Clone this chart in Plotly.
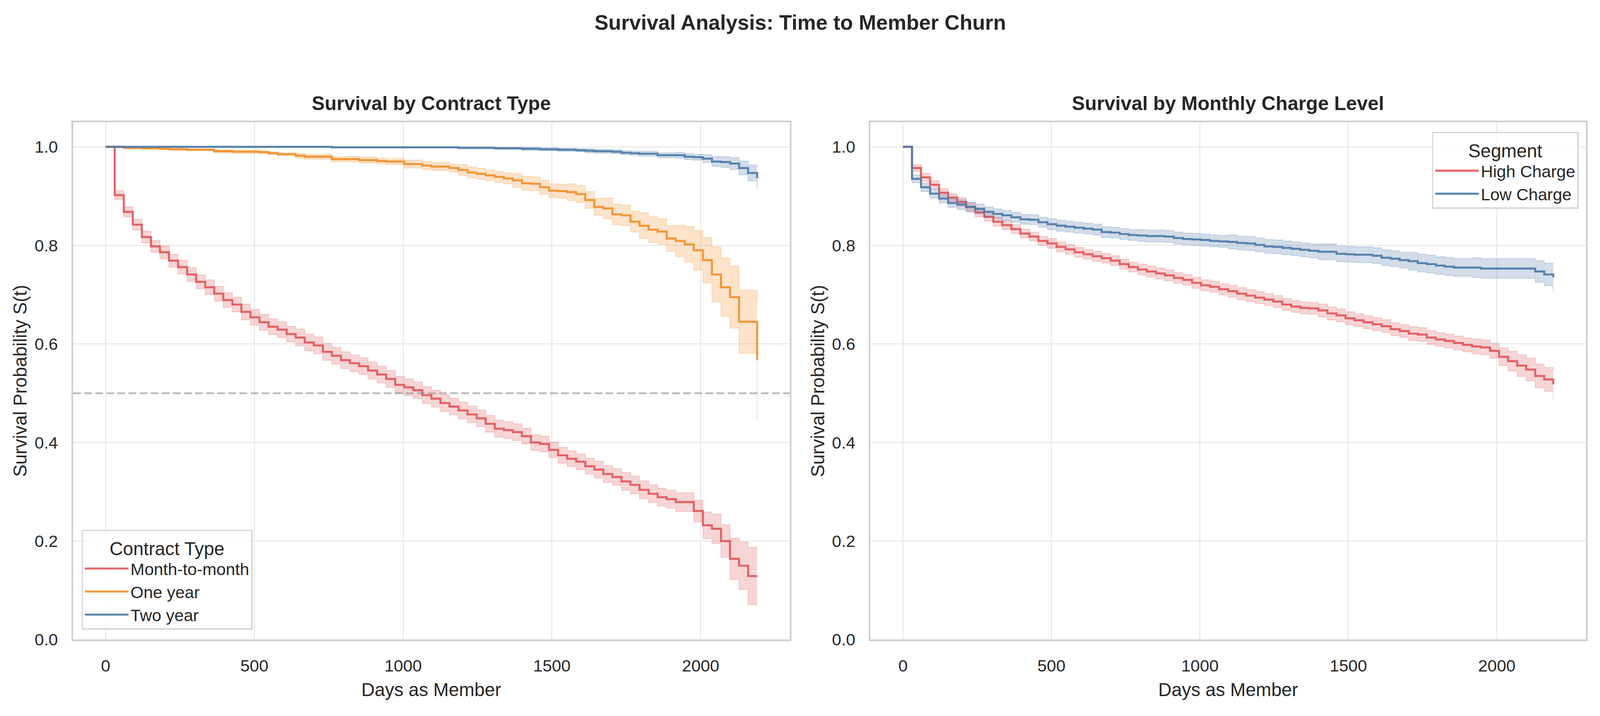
import plotly.graph_objects as go

# ---------------- data ----------------
months = list(range(73))  # tenure in months, 0..72
days = [m * 365 / 12 for m in months]

contract_labels = ["Month-to-month", "One year", "Two year"]
charge_labels = ["High Charge", "Low Charge"]

surv_month_to_month = [
    1.0, 0.902, 0.868, 0.842, 0.817, 0.798, 0.786, 0.769, 0.756, 0.741,
    0.726, 0.715, 0.702, 0.689, 0.680, 0.665, 0.654, 0.644, 0.635, 0.629,
    0.620, 0.613, 0.603, 0.597, 0.584, 0.576, 0.567, 0.561, 0.555, 0.546,
    0.538, 0.529, 0.517, 0.512, 0.506, 0.496, 0.489, 0.480, 0.473, 0.465,
    0.457, 0.449, 0.438, 0.428, 0.425, 0.421, 0.413, 0.400, 0.397, 0.385,
    0.374, 0.367, 0.361, 0.352, 0.345, 0.336, 0.330, 0.321, 0.314, 0.304,
    0.296, 0.289, 0.285, 0.279, 0.279, 0.261, 0.232, 0.225, 0.200, 0.164,
    0.150, 0.129, 0.129]
ci_month_to_month = [
    0.0, 0.009, 0.010, 0.011, 0.012, 0.012, 0.013, 0.013, 0.014, 0.014,
    0.014, 0.015, 0.015, 0.015, 0.015, 0.016, 0.016, 0.016, 0.016, 0.016,
    0.016, 0.017, 0.017, 0.017, 0.017, 0.017, 0.017, 0.017, 0.017, 0.017,
    0.017, 0.017, 0.017, 0.017, 0.017, 0.017, 0.017, 0.017, 0.017, 0.017,
    0.017, 0.017, 0.017, 0.017, 0.017, 0.017, 0.016, 0.016, 0.016, 0.016,
    0.016, 0.016, 0.016, 0.016, 0.017, 0.017, 0.017, 0.018, 0.018, 0.018,
    0.018, 0.018, 0.018, 0.019, 0.019, 0.022, 0.027, 0.030, 0.033, 0.042,
    0.048, 0.058, 0.058]

surv_one_year = [
    1.0, 1.0, 0.998, 0.998, 0.997, 0.997, 0.996, 0.995, 0.995, 0.994,
    0.994, 0.994, 0.991, 0.991, 0.990, 0.990, 0.990, 0.989, 0.987, 0.985,
    0.985, 0.982, 0.980, 0.980, 0.980, 0.975, 0.975, 0.975, 0.973, 0.973,
    0.971, 0.970, 0.970, 0.965, 0.965, 0.962, 0.960, 0.960, 0.957, 0.953,
    0.948, 0.945, 0.942, 0.939, 0.936, 0.932, 0.926, 0.925, 0.918, 0.911,
    0.910, 0.908, 0.904, 0.892, 0.878, 0.875, 0.863, 0.861, 0.848, 0.840,
    0.832, 0.828, 0.814, 0.809, 0.802, 0.790, 0.770, 0.741, 0.715, 0.695,
    0.645, 0.645, 0.567]
ci_one_year = [
    0.0, 0.0, 0.002, 0.002, 0.002, 0.002, 0.002, 0.002, 0.002, 0.002,
    0.002, 0.002, 0.003, 0.003, 0.003, 0.003, 0.003, 0.003, 0.003, 0.003,
    0.003, 0.005, 0.005, 0.005, 0.005, 0.005, 0.005, 0.006, 0.006, 0.006,
    0.006, 0.006, 0.006, 0.008, 0.008, 0.008, 0.008, 0.008, 0.008, 0.011,
    0.011, 0.011, 0.011, 0.011, 0.011, 0.014, 0.014, 0.014, 0.014, 0.014,
    0.014, 0.017, 0.017, 0.017, 0.017, 0.021, 0.021, 0.021, 0.021, 0.026,
    0.026, 0.026, 0.026, 0.032, 0.036, 0.040, 0.046, 0.056, 0.059, 0.063,
    0.064, 0.064, 0.120]

surv_two_year = [
    1.0, 1.0, 1.0, 1.0, 1.0, 1.0, 1.0, 1.0, 1.0, 1.0,
    1.0, 1.0, 1.0, 1.0, 1.0, 1.0, 1.0, 1.0, 1.0, 1.0,
    1.0, 1.0, 1.0, 1.0, 1.0, 0.999, 0.999, 0.999, 0.999, 0.999,
    0.999, 0.999, 0.999, 0.999, 0.999, 0.999, 0.999, 0.999, 0.999, 0.998,
    0.998, 0.998, 0.998, 0.997, 0.997, 0.997, 0.996, 0.996, 0.995, 0.995,
    0.994, 0.994, 0.993, 0.992, 0.991, 0.991, 0.990, 0.988, 0.987, 0.986,
    0.986, 0.983, 0.983, 0.983, 0.980, 0.979, 0.976, 0.970, 0.969, 0.966,
    0.957, 0.947, 0.936]
ci_two_year = [
    0.0, 0.0, 0.0, 0.0, 0.0, 0.0, 0.0, 0.0, 0.0, 0.0,
    0.0, 0.0, 0.0, 0.0, 0.0, 0.0, 0.0, 0.0, 0.0, 0.0,
    0.0, 0.0, 0.0, 0.0, 0.0, 0.001, 0.001, 0.001, 0.001, 0.001,
    0.001, 0.001, 0.001, 0.001, 0.001, 0.001, 0.001, 0.001, 0.001, 0.002,
    0.002, 0.002, 0.002, 0.002, 0.002, 0.002, 0.003, 0.003, 0.003, 0.003,
    0.003, 0.003, 0.003, 0.004, 0.004, 0.004, 0.004, 0.004, 0.004, 0.005,
    0.005, 0.005, 0.005, 0.006, 0.006, 0.006, 0.008, 0.010, 0.011, 0.012,
    0.014, 0.016, 0.024]

surv_high_charge = [
    1.0, 0.957, 0.938, 0.923, 0.907, 0.897, 0.888, 0.878, 0.867, 0.858,
    0.848, 0.841, 0.833, 0.824, 0.818, 0.809, 0.804, 0.797, 0.792, 0.786,
    0.782, 0.778, 0.774, 0.769, 0.762, 0.756, 0.751, 0.747, 0.743, 0.739,
    0.734, 0.730, 0.724, 0.719, 0.716, 0.711, 0.707, 0.702, 0.698, 0.694,
    0.690, 0.686, 0.680, 0.676, 0.673, 0.672, 0.668, 0.662, 0.658, 0.652,
    0.648, 0.644, 0.640, 0.636, 0.630, 0.626, 0.621, 0.619, 0.613, 0.609,
    0.606, 0.602, 0.598, 0.595, 0.593, 0.586, 0.574, 0.565, 0.556, 0.548,
    0.535, 0.528, 0.518]
ci_high_charge = [
    0.0, 0.007, 0.008, 0.008, 0.008, 0.008, 0.009, 0.009, 0.009, 0.009,
    0.009, 0.009, 0.009, 0.009, 0.009, 0.009, 0.010, 0.010, 0.010, 0.010,
    0.010, 0.010, 0.010, 0.010, 0.010, 0.010, 0.011, 0.011, 0.011, 0.011,
    0.011, 0.011, 0.011, 0.011, 0.011, 0.011, 0.012, 0.012, 0.012, 0.012,
    0.012, 0.012, 0.012, 0.012, 0.012, 0.012, 0.013, 0.013, 0.013, 0.013,
    0.013, 0.013, 0.013, 0.013, 0.013, 0.013, 0.014, 0.014, 0.014, 0.014,
    0.014, 0.014, 0.014, 0.015, 0.015, 0.015, 0.018, 0.020, 0.022, 0.023,
    0.024, 0.024, 0.030]

surv_low_charge = [
    1.0, 0.935, 0.918, 0.905, 0.895, 0.886, 0.883, 0.878, 0.874, 0.868,
    0.864, 0.861, 0.857, 0.853, 0.852, 0.847, 0.843, 0.840, 0.838, 0.836,
    0.834, 0.832, 0.827, 0.826, 0.823, 0.821, 0.820, 0.819, 0.819, 0.818,
    0.815, 0.813, 0.812, 0.811, 0.809, 0.808, 0.807, 0.805, 0.804, 0.801,
    0.798, 0.797, 0.795, 0.793, 0.791, 0.789, 0.787, 0.787, 0.783, 0.782,
    0.781, 0.781, 0.779, 0.775, 0.773, 0.770, 0.768, 0.764, 0.762, 0.759,
    0.757, 0.755, 0.755, 0.755, 0.753, 0.753, 0.753, 0.753, 0.753, 0.753,
    0.747, 0.741, 0.735]
ci_low_charge = [
    0.0, 0.008, 0.009, 0.009, 0.009, 0.009, 0.010, 0.010, 0.010, 0.010,
    0.010, 0.010, 0.010, 0.010, 0.010, 0.010, 0.011, 0.011, 0.011, 0.011,
    0.011, 0.011, 0.011, 0.011, 0.011, 0.011, 0.012, 0.012, 0.012, 0.012,
    0.012, 0.012, 0.012, 0.012, 0.012, 0.012, 0.014, 0.014, 0.014, 0.014,
    0.014, 0.014, 0.014, 0.014, 0.014, 0.014, 0.016, 0.016, 0.016, 0.016,
    0.016, 0.016, 0.016, 0.016, 0.016, 0.016, 0.018, 0.018, 0.018, 0.018,
    0.018, 0.018, 0.018, 0.020, 0.020, 0.020, 0.020, 0.020, 0.020, 0.020,
    0.022, 0.023, 0.030]

x_ticks = [0, 500, 1000, 1500, 2000]
y_ticks = [0.0, 0.2, 0.4, 0.6, 0.8, 1.0]
median_level = 0.5

# ---------------- styling ----------------
# reference canvas in device pixels; the page renders 1 CSS px as ~1.161 device px
W_REF, H_REF = 4739, 1834
S = 1.161


def p(v):
    """reference-pixel size -> CSS px"""
    return v / S


FONT = "Liberation Sans, Arial, Helvetica, sans-serif"
TXT = "#262626"
COLORS = {"red": (225, 87, 89), "orange": (242, 142, 43), "blue": (78, 121, 167)}


def rgba(c, a):
    return f"rgba({c[0]},{c[1]},{c[2]},{a})"


fig = go.Figure()


def add_km(surv, ci, name, color, xa, ya, legend):
    lower = [max(s - c, 0.0) for s, c in zip(surv, ci)]
    upper = [min(s + c, 1.0) for s, c in zip(surv, ci)]
    fig.add_trace(go.Scatter(
        x=days, y=lower, mode="lines", line=dict(shape="hv", width=p(2.5), color=rgba(color, 0.25)),
        xaxis=xa, yaxis=ya, showlegend=False, hoverinfo="skip"))
    fig.add_trace(go.Scatter(
        x=days, y=upper, mode="lines", line=dict(shape="hv", width=p(2.5), color=rgba(color, 0.25)),
        fill="tonexty", fillcolor=rgba(color, 0.25),
        xaxis=xa, yaxis=ya, showlegend=False, hoverinfo="skip"))
    fig.add_trace(go.Scatter(
        x=days, y=surv, mode="lines", name=name,
        line=dict(shape="hv", width=p(6), color=rgba(color, 0.92)),
        xaxis=xa, yaxis=ya, legend=legend))


add_km(surv_month_to_month, ci_month_to_month, contract_labels[0], COLORS["red"], "x", "y", "legend")
add_km(surv_one_year, ci_one_year, contract_labels[1], COLORS["orange"], "x", "y", "legend")
add_km(surv_two_year, ci_two_year, contract_labels[2], COLORS["blue"], "x", "y", "legend")
add_km(surv_high_charge, ci_high_charge, charge_labels[0], COLORS["red"], "x2", "y2", "legend2")
add_km(surv_low_charge, ci_low_charge, charge_labels[1], COLORS["blue"], "x2", "y2", "legend2")

# geometry in reference pixels
L1, R1 = 208, 2339
L2, R2 = 2579, 4706
TOP, BOT = 309, 1652


def fx(px):
    return px / W_REF


def fy(py):
    return (H_REF - py) / H_REF


axis_common = dict(
    showline=True, mirror=True, linecolor="#cccccc", linewidth=p(5),
    showgrid=True, gridcolor="#ebebeb", gridwidth=p(4), zeroline=False,
    ticks="", tickfont=dict(family=FONT, size=p(50), color=TXT),
    ticklabelstandoff=int(round(p(30))),
)

xaxis_kw = dict(axis_common, range=[-109.5, 2299.5], tickvals=x_ticks,
                ticktext=[str(v) for v in x_ticks])
yaxis_kw = dict(axis_common, range=[0, 1.05], tickvals=y_ticks,
                ticktext=[f"{v:.1f}" for v in y_ticks])

legend_common = dict(
    bgcolor="rgba(255,255,255,0.8)", bordercolor="#d6d6d6", borderwidth=p(4),
    font=dict(family=FONT, size=p(50), color=TXT), traceorder="normal",
    itemwidth=112, tracegroupgap=0,
)

fig.update_layout(
    autosize=True,
    margin=dict(l=0, r=0, t=0, b=0, pad=0),
    paper_bgcolor="white", plot_bgcolor="white",
    font=dict(family=FONT, color=TXT),
    xaxis=dict(xaxis_kw, domain=[fx(L1), fx(R1)], anchor="y"),
    yaxis=dict(yaxis_kw, domain=[fy(BOT), fy(TOP)], anchor="x"),
    xaxis2=dict(xaxis_kw, domain=[fx(L2), fx(R2)], anchor="y2"),
    yaxis2=dict(yaxis_kw, domain=[fy(BOT), fy(TOP)], anchor="x2"),
    legend=dict(
        legend_common, x=fx(233), y=fy(1626), xanchor="left", yanchor="bottom",
        title=dict(text="Contract Type", side="top center",
                   font=dict(family=FONT, size=p(55), color=TXT)),
    ),
    legend2=dict(
        legend_common, x=fx(4685), y=fy(334), xanchor="right", yanchor="top",
        title=dict(text="Segment", side="top center",
                   font=dict(family=FONT, size=p(55), color=TXT)),
    ),
    showlegend=True,
)

# median reference line on the contract panel
fig.add_shape(type="line", xref="x domain", yref="y", x0=0, x1=1, y0=median_level, y1=median_level,
              line=dict(color="rgba(128,128,128,0.5)", width=p(6), dash=f"{p(23):.1f}px,{p(10):.1f}px"),
              layer="above")

ann = []
ann.append(dict(text="<b>Survival Analysis: Time to Member Churn</b>", x=0.5, y=fy(50),
                xref="paper", yref="paper", xanchor="center", yanchor="middle", showarrow=False,
                font=dict(family=FONT, size=p(62), color=TXT)))
for (l, r, t) in [(L1, R1, "Survival by Contract Type"), (L2, R2, "Survival by Monthly Charge Level")]:
    ann.append(dict(text=f"<b>{t}</b>", x=fx((l + r) / 2), y=fy(260), xref="paper", yref="paper",
                    xanchor="center", yanchor="middle", showarrow=False,
                    font=dict(family=FONT, size=p(58), color=TXT)))
    ann.append(dict(text="Days as Member", x=fx((l + r) / 2), y=fy(1782), xref="paper", yref="paper",
                    xanchor="center", yanchor="middle", showarrow=False,
                    font=dict(family=FONT, size=p(55), color=TXT)))
    ann.append(dict(text="Survival Probability S(t)", x=fx(l - 157), y=fy((TOP + BOT) / 2),
                    xref="paper", yref="paper", xanchor="center", yanchor="middle", textangle=-90,
                    showarrow=False, font=dict(family=FONT, size=p(55), color=TXT)))
fig.update_layout(annotations=ann)

fig.write_html("out.html", default_width="100%", default_height="100vh")
